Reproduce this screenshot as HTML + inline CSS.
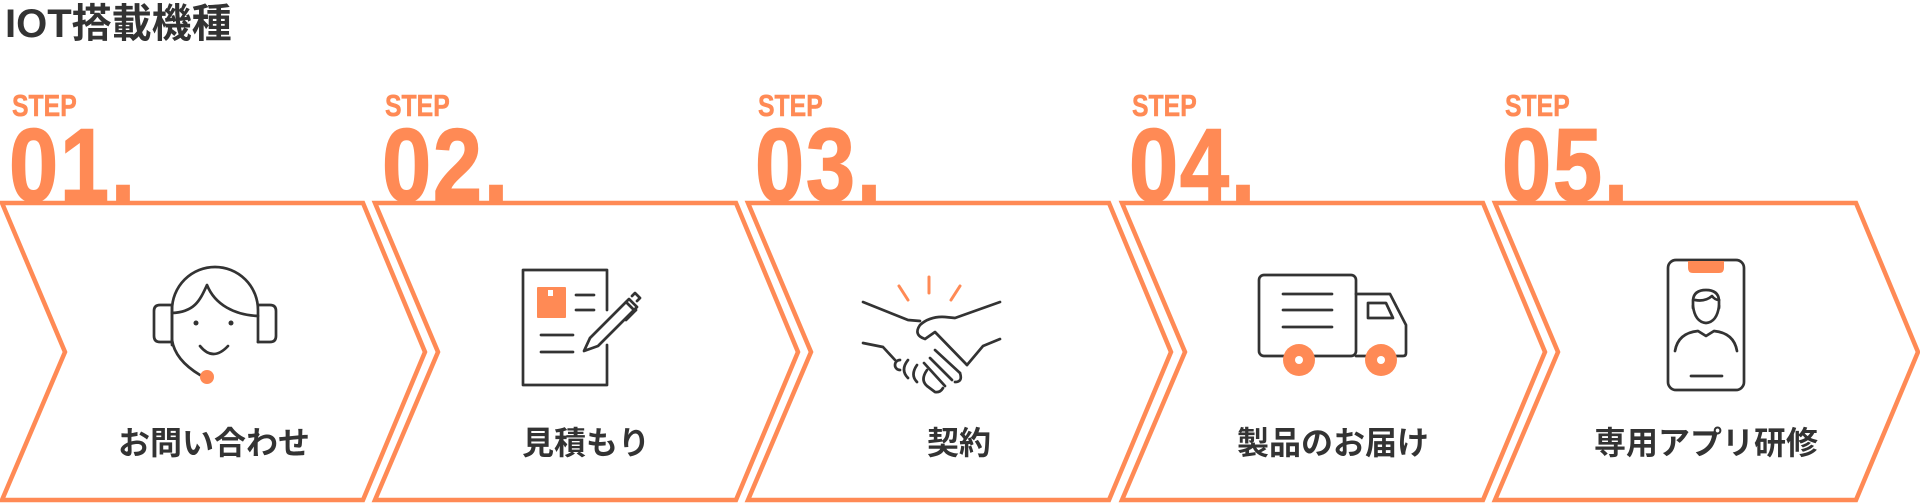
<!DOCTYPE html>
<html><head><meta charset="utf-8"><style>
body{margin:0;width:1920px;height:503px;background:#fff;overflow:hidden}
svg{display:block}
.t{font-family:"Liberation Sans","Noto Sans CJK JP",sans-serif;font-weight:bold}
</style></head><body>
<svg width="1920" height="503" viewBox="0 0 1920 503" xmlns="http://www.w3.org/2000/svg">
<text x="5" y="37" class="t" font-size="40" fill="#333">IOT搭載機種</text>
<defs>
<g id="shape"><polygon points="2,203 363,203 425,352 363,500 2,500 65,352" fill="#fff" stroke="#ff8a55" stroke-width="4.5" stroke-linejoin="miter"/></g>
</defs>
<g font-family="Liberation Sans, sans-serif" font-weight="bold" fill="#ff8a55" stroke="#ff8a55" stroke-width="1.5">
<g transform="translate(0,0)"><use href="#shape"/><text x="12" y="116" font-size="31" stroke-width="0.5" transform="translate(12,116) scale(0.8,1) translate(-12,-116)">STEP</text><text x="9" y="201" font-size="104" transform="translate(9,201) scale(0.85,1) translate(-9,-201)" letter-spacing="2">01.</text></g>
<g transform="translate(373,0)"><use href="#shape"/><text x="12" y="116" font-size="31" stroke-width="0.5" transform="translate(12,116) scale(0.8,1) translate(-12,-116)">STEP</text><text x="9" y="201" font-size="104" transform="translate(9,201) scale(0.85,1) translate(-9,-201)" letter-spacing="2">02.</text></g>
<g transform="translate(746,0)"><use href="#shape"/><text x="12" y="116" font-size="31" stroke-width="0.5" transform="translate(12,116) scale(0.8,1) translate(-12,-116)">STEP</text><text x="9" y="201" font-size="104" transform="translate(9,201) scale(0.85,1) translate(-9,-201)" letter-spacing="2">03.</text></g>
<g transform="translate(1120,0)"><use href="#shape"/><text x="12" y="116" font-size="31" stroke-width="0.5" transform="translate(12,116) scale(0.8,1) translate(-12,-116)">STEP</text><text x="9" y="201" font-size="104" transform="translate(9,201) scale(0.85,1) translate(-9,-201)" letter-spacing="2">04.</text></g>
<g transform="translate(1493,0)"><use href="#shape"/><text x="12" y="116" font-size="31" stroke-width="0.5" transform="translate(12,116) scale(0.8,1) translate(-12,-116)">STEP</text><text x="9" y="201" font-size="104" transform="translate(9,201) scale(0.85,1) translate(-9,-201)" letter-spacing="2">05.</text></g>
</g>
<g class="t" font-size="32" fill="#333" text-anchor="middle">
<text x="214" y="454">お問い合わせ</text>
<text x="586" y="454">見積もり</text>
<text x="959" y="454">契約</text>
<text x="1333" y="454">製品のお届け</text>
<text x="1706" y="454">専用アプリ研修</text>
</g>
<g fill="none" stroke="#333" stroke-width="2.7" stroke-linecap="round" stroke-linejoin="round">
<path d="M172,345 L172,310 A43,43 0 0 1 258,310 L258,342"/>
<path d="M172,313 C195,312 200,300 207,285 C215,305 235,315 258,316"/>
<path d="M172,340 Q175,360 200,375"/>
<path d="M160,305 L172,305 L172,342 L160,342 Q154,342 154,336 L154,311 Q154,305 160,305 Z"/>
<path d="M258,305 L270,305 Q276,305 276,311 L276,336 Q276,342 270,342 L258,342"/>
<path d="M200,346 Q213,362 228,346"/>
<path d="M607,310 L607,270 L523,270 L523,385 L607,385 L607,345"/>
<line x1="576" y1="295" x2="594" y2="295"/><line x1="576" y1="310" x2="594" y2="310"/>
<line x1="541" y1="335" x2="573" y2="335"/><line x1="541" y1="352" x2="573" y2="352"/>
<path d="M584,351 L590,338 L626,302 L634,310 L598,346 Z"/>
<path d="M626,302 L629,299 L637,307 L634,310"/>
<path d="M632,296 L635,293 L640,298 L637,301"/>
<path d="M636,310 L626,320"/>
<path d="M863,302 L908,320 L920,321"/>
<path d="M1000,302 L955,318 L945,317 Q930,316 920,325 Q913,335 925,339 L935,332 L967,365"/>
<path d="M863,343 L883,347 L895,360"/>
<path d="M1000,339 L983,346 L967,365"/>
<path d="M900,360 A5,5 0 0 0 900,370 M908,360 Q900,370 908,378 M917,365 Q910,375 917,382 M927,370 Q920,380 927,386 L935,392 Q940,393 943,388"/>
<path d="M935,350 L960,373 M930,358 L952,380 M924,363 L945,386"/>
<path d="M960,373 Q963,382 955,382"/>
<rect x="1259" y="275" width="97" height="81" rx="5"/>
<line x1="1283" y1="294" x2="1332" y2="294"/><line x1="1283" y1="310" x2="1332" y2="310"/><line x1="1283" y1="327" x2="1332" y2="327"/>
<path d="M1356,294 L1390,294 L1406,325 L1406,353 Q1406,356 1403,356 L1356,356"/>
<path d="M1368,303 L1386,303 L1393,318 L1368,318 Z"/>
<rect x="1668" y="260" width="76" height="130" rx="8"/>
<path d="M1693,308 L1693,300 Q1694,290 1706,290 Q1718,290 1719,300 L1719,308"/>
<path d="M1693,306 Q1695,322 1706,323 Q1717,322 1719,306"/>
<path d="M1695,300 Q1705,302 1712,296 Q1715,300 1719,300"/>
<path d="M1675,351 Q1678,333 1698,331 L1706,336 L1714,331 Q1734,333 1737,351"/>
<line x1="1691" y1="376" x2="1722" y2="376"/>
</g>
<g fill="#333"><circle cx="196" cy="323" r="2.5"/><circle cx="231" cy="323" r="2.5"/></g>
<g stroke="#ff8a55" stroke-width="3" stroke-linecap="round">
<line x1="899" y1="286" x2="908" y2="300"/><line x1="929" y1="277" x2="929" y2="293"/><line x1="960" y1="286" x2="951" y2="300"/>
</g>
<g fill="#ff8a55">
<circle cx="207" cy="377" r="7"/>
<rect x="537" y="287" width="29" height="31" rx="1"/>
<circle cx="1299" cy="360" r="16"/><circle cx="1381" cy="360" r="16"/>
<path d="M1688,261 L1724,261 L1724,268 Q1724,273 1719,273 L1693,273 Q1688,273 1688,268 Z"/>
</g>
<rect x="548" y="290" width="5" height="6" fill="#fff"/>
<g fill="#fff"><circle cx="1299" cy="360" r="4"/><circle cx="1381" cy="360" r="4"/></g>
</svg>
</body></html>
